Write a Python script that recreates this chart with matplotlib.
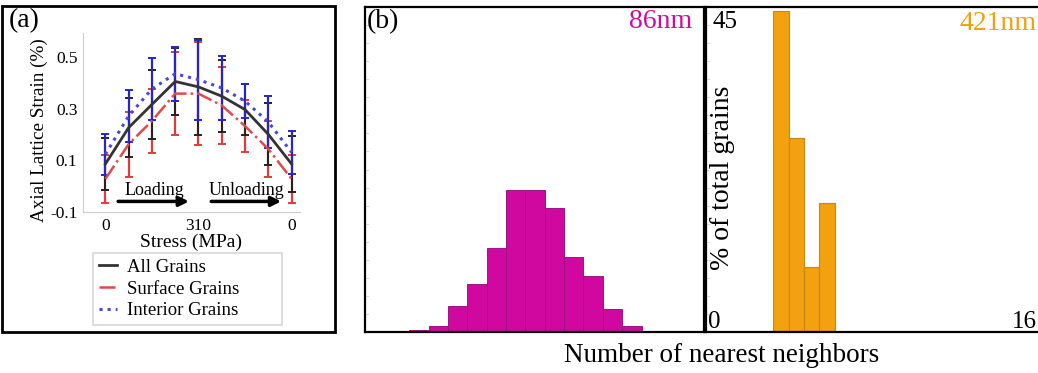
import matplotlib
matplotlib.use("Agg")
import matplotlib.pyplot as plt
from matplotlib.patches import Rectangle
import numpy as np

plt.rcParams['font.family'] = ['Liberation Serif', 'DejaVu Serif']

# (a) lattice strain during a load/unload cycle
steps = np.arange(9)
stress_ticks = [0, 4, 8]
stress_labels = ['0', '310', '0']
all_mean = [0.086, 0.227, 0.317, 0.406, 0.385, 0.349, 0.297, 0.201, 0.086]
all_err = [0.10, 0.115, 0.135, 0.13, 0.185, 0.14, 0.10, 0.12, 0.11]
surf_mean = [0.028, 0.163, 0.253, 0.359, 0.359, 0.313, 0.233, 0.144, 0.028]
surf_err = [0.092, 0.126, 0.125, 0.162, 0.20, 0.15, 0.10, 0.109, 0.092]
inter_mean = [0.124, 0.272, 0.377, 0.436, 0.413, 0.381, 0.33, 0.249, 0.131]
inter_err = [0.08, 0.10, 0.12, 0.105, 0.155, 0.124, 0.067, 0.10, 0.083]

# (b) nearest-neighbour histograms (% of total grains)
nn_86 = np.arange(3, 15)
pct_86 = [0.3, 0.9, 3.6, 6.6, 11.7, 19.6, 19.6, 17.2, 10.4, 7.7, 3.2, 0.9]
nn_421 = np.arange(4, 8)
pct_421 = [44.5, 26.9, 9.0, 17.8]

W, H = 1038, 373
fig = plt.figure(figsize=(W / 100, H / 100), dpi=100)

def fx(px):
    return px / W

def fy(py):
    return 1 - py / H

# ---------- panel (a) ----------
ax = fig.add_axes([fx(83), fy(212), fx(300 - 83), (212 - 33) / H])
c_all, c_surf, c_int = '#333333', '#e04a4a', '#4848d8'
ax.errorbar(steps, surf_mean, yerr=surf_err, fmt='none', ecolor='#e03c3c',
            elinewidth=1.6, capsize=3, capthick=1.4, zorder=2)
ax.errorbar(steps, all_mean, yerr=all_err, fmt='none', ecolor='#222222',
            elinewidth=1.4, capsize=3, capthick=1.4, zorder=3)
ax.errorbar(steps, inter_mean, yerr=inter_err, fmt='none', ecolor='#2626c8',
            elinewidth=1.6, capsize=3, capthick=1.4, zorder=4)
ax.plot(steps, all_mean, '-', color=c_all, lw=2, label='All Grains', zorder=5)
ax.plot(steps, surf_mean, '-.', color=c_surf, lw=1.8, label='Surface Grains', zorder=5)
ax.plot(steps, inter_mean, ':', color=c_int, lw=2.2, label='Interior Grains', zorder=5)

ax.set_xlim(-0.96, 8.36)
ax.set_ylim(-0.1, 0.594)
ax.set_xticks(stress_ticks)
ax.set_xticklabels(stress_labels)
ax.set_yticks([-0.1, 0.1, 0.3, 0.5])
ax.set_yticklabels(['-0.1', '0.1', '0.3', '0.5'])
ax.tick_params(length=0, labelsize=12.5, pad=4)
for s in ['top', 'right']:
    ax.spines[s].set_visible(False)
for s in ['left', 'bottom']:
    ax.spines[s].set_color('#cccccc')
ax.set_xlabel('Stress (MPa)', fontsize=14, labelpad=0)
ax.set_ylabel('Axial Lattice Strain (%)', fontsize=13.8)
ax.yaxis.set_label_coords(-0.16, 0.46)

ax.annotate('', xy=(3.71, -0.059), xytext=(0.43, -0.059),
            arrowprops=dict(arrowstyle='-|>', color='black', lw=2.5, mutation_scale=14))
ax.annotate('', xy=(7.67, -0.059), xytext=(4.43, -0.059),
            arrowprops=dict(arrowstyle='-|>', color='black', lw=2.5, mutation_scale=14))
ax.text(2.1, -0.018, 'Loading', ha='center', va='center', fontsize=13)
ax.text(6.07, -0.018, 'Unloading', ha='center', va='center', fontsize=13)

leg = ax.legend(loc='upper left',
                bbox_to_anchor=(fx(93), fy(327), fx(282 - 93), (327 - 253) / H),
                bbox_transform=fig.transFigure, mode='expand', borderaxespad=0,
                fontsize=13.5, frameon=True, fancybox=False, handlelength=1.0,
                handletextpad=0.5, labelspacing=0.25, borderpad=0.3)
leg.get_frame().set_edgecolor('#cccccc')
leg.get_frame().set_linewidth(1.2)

fig.patches.append(Rectangle((fx(2), fy(332)), fx(335 - 2), (332 - 6) / H,
                             transform=fig.transFigure, fill=False,
                             edgecolor='black', lw=2))
fig.text(fx(9), fy(21), '(a)', fontsize=20, va='center', ha='left')

# ---------- panel (b) ----------
axl = fig.add_axes([fx(365), fy(332), fx(704 - 365), (332 - 7) / H])
axl.bar(nn_86, pct_86, width=1.0, color='#d108a0', edgecolor='#9c1484', lw=0.7)
axl.set_xlim(0.21, 17.73)
axl.set_ylim(0, 45)

axr = fig.add_axes([fx(706), fy(332), fx(1045 - 706), (332 - 7) / H])
axr.bar(nn_421, pct_421, width=1.0, color='#f3a10f', edgecolor='#c98518', lw=0.8)
axr.set_xlim(-0.88, 21.2)
axr.set_ylim(0, 45)

for a in (axl, axr):
    a.set_xticks([])
    a.set_yticks(np.arange(2.5, 45, 2.5))
    a.tick_params(axis='y', direction='in', length=3, color='#dddddd',
                  labelleft=False)
    for s in a.spines.values():
        s.set_color('black')
        s.set_linewidth(1.6)

axl.text(0.006, 0.955, '(b)', transform=axl.transAxes, fontsize=20,
         ha='left', va='center')
axl.text(0.965, 0.955, '86nm', transform=axl.transAxes, fontsize=20,
         ha='right', va='center', color='#d10a9e')

axr.text(0.056, 0.955, '45', transform=axr.transAxes, fontsize=18,
         ha='center', va='center')
axr.text(0.024, 0.03, '0', transform=axr.transAxes, fontsize=18,
         ha='center', va='center')
fig.text(fx(1037), fy(322), '16', fontsize=18, ha='right', va='center')
fig.text(fx(1037), fy(24), '421nm', fontsize=20, ha='right', va='center',
         color='#f0a010')
axr.text(0.05, 0.474, '% of total grains', transform=axr.transAxes,
         fontsize=20, rotation=90, ha='center', va='center')

fig.text(fx(722), fy(355), 'Number of nearest neighbors', fontsize=19.5,
         ha='center', va='center')

fig.savefig('out.png', dpi=100)
